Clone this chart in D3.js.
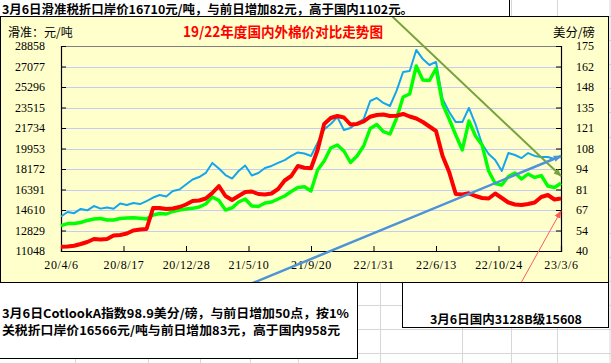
<!DOCTYPE html>
<html>
<head>
<meta charset="utf-8">
<script src="https://cdn.jsdelivr.net/npm/d3@7"></script>
<style>
  body { margin: 0; background: #fff; }
  svg { display: block; }
</style>
</head>
<body>
<div id="chart"></div>
<script>
// ---- data ----
const startDate = "2020-04-06";
const stepDays = 14;
const tickLabels = ["20/4/6", "20/8/17", "20/12/28", "21/5/10", "21/9/20", "22/1/31", "22/6/13", "22/10/24", "23/3/6"];
const leftTicks = [11048, 12829, 14610, 16391, 18172, 19953, 21734, 23515, 25296, 27077, 28858];
const rightTicks = [40, 53.5, 67, 80.5, 94, 107.5, 121, 134.5, 148, 161.5, 175];

// red: domestic 3128B (yuan/t, left axis)
const domesticPrice = [11422, 11439, 11500, 11656, 11830, 12091, 12047, 12091, 12395, 12438,
  12568, 12829, 12916, 12959, 14784, 14784, 14697, 14740, 14871, 15088,
  15392, 15435, 15609, 16087, 16695, 15826, 15479, 15826, 16174, 16217,
  16000, 15957, 16044, 16435, 17173, 17564, 18433, 18285, 18233, 19823,
  22082, 22603, 22777, 22646, 22038, 22082, 22299, 22716, 22864, 22907,
  22777, 22803, 22951, 22733, 22560, 22256, 21865, 21474, 19302, 17912,
  16000, 15957, 16061, 15826, 15653, 15609, 16044, 15653, 15262, 15088,
  15044, 15131, 15262, 15740, 15913, 15522, 15608];

// blue: Cotlook A index (cents/lb, right axis)
const cotlookA = [62.7, 65.7, 64.9, 67.7, 66.8, 69.6, 67.9, 68.6, 67.8, 71.3,
  70.3, 71.6, 70.9, 72.9, 75.2, 76.9, 75.9, 79.5, 80.5, 83.8,
  87.1, 88.7, 91.4, 98.0, 94.3, 90.0, 87.7, 92.7, 96.3, 89.7,
  91.4, 94.7, 96.0, 98.0, 99.9, 102.6, 104.9, 104.2, 102.6, 111.1,
  120.0, 123.6, 128.2, 119.7, 121.0, 124.3, 126.9, 138.8, 140.8, 137.5,
  135.5, 145.4, 157.9, 158.5, 172.4, 166.4, 162.5, 164.5, 140.1, 131.5,
  124.9, 124.9, 134.2, 123.6, 110.5, 103.9, 99.9, 92.7, 104.5, 103.2,
  101.2, 104.5, 102.6, 101.9, 101.9, 100.6, 102.2];

// green: import price after tariff (yuan/t, left axis)
const importPrice = [13263, 13437, 13437, 13524, 13698, 13828, 13872, 13741, 13741, 13872,
  13915, 13941, 13889, 13828, 14176, 14306, 14263, 14480, 14610, 14697,
  14758, 14871, 15131, 15740, 15435, 14610, 14784, 15305, 15566, 14958,
  14914, 15218, 15305, 15566, 15826, 16217, 16565, 16634, 16261, 18085,
  18867, 19997, 20257, 19736, 18737, 19302, 20170, 21691, 22038, 21413,
  21213, 22560, 24428, 24688, 27121, 25904, 25861, 26904, 23819, 22516,
  21126, 19823, 22342, 21039, 20257, 17998, 16912, 16782, 17521, 17825,
  17303, 17738, 17434, 17607, 16695, 16565, 16930];

// hand-drawn trend arrows, in data space [date, left-axis value]
const trendLines = [
  { from: ["2022-03-10", 31500], to: ["2023-03-06", 17564], color: "#77A33D", width: 2, arrow: "g" },
  { from: ["2021-05-15", 8200], to: ["2023-03-06", 19302], color: "#4E92D8", width: 2.5, arrow: "b" },
  { from: ["2022-12-12", 8355], to: ["2023-03-06", 14523], color: "#FF5A5A", width: 1, arrow: "r" }
];

const topText = "3月6日滑准税折口岸价16710元/吨，与前日增加82元，高于国内1102元。";
const noteLines = ["3月6日CotlookA指数98.9美分/磅，与前日增加50点，按1%", "关税折口岸价16566元/吨与前日增加83元，高于国内958元"];
const sideNote = "3月6日国内3128B级15608";

// ---- drawing ----
const W = 611, H = 363;
const plot = { left: 61, right: 561, top: 46, bottom: 251 };
const cjk = '"Noto Sans CJK SC", "Noto Sans", sans-serif';
const serif = '"Liberation Serif", "DejaVu Serif", serif';

const parseDay = d3.timeParse("%Y-%m-%d");
const parseTick = d3.timeParse("%y/%m/%d");
const t0 = parseDay(startDate);
const dates = d3.range(domesticPrice.length).map(i => d3.timeDay.offset(t0, i * stepDays));
const tickDates = tickLabels.map(parseTick);

const x = d3.scaleTime()
    .domain([tickDates[0], tickDates[tickDates.length - 1]])
    .range([plot.left, plot.right]);
const yL = d3.scaleLinear().domain([leftTicks[0], leftTicks[leftTicks.length - 1]]).range([plot.bottom, plot.top]);
const yR = d3.scaleLinear().domain([rightTicks[0], rightTicks[rightTicks.length - 1]]).range([plot.bottom, plot.top]);

const svg = d3.select('#chart').append('svg')
    .attr('width', W)
    .attr('height', H)
    .attr('viewBox', [0, 0, W, H]);

// spreadsheet grid behind everything
const gridCols = [75, 148, 200, 250, 298, 380, 462, 511, 557, 609.5];
const gridRows = d3.range(0, 15).map(k => 16 + k * 24.1);
const sheet = svg.append('g').attr('stroke', '#d6d6d6').attr('stroke-width', 1);
gridCols.forEach(c => sheet.append('line').attr('x1', c + 0.5).attr('x2', c + 0.5).attr('y1', 0).attr('y2', H));
gridRows.forEach(r => sheet.append('line').attr('x1', 0).attr('x2', W).attr('y1', Math.round(r) + 0.5).attr('y2', Math.round(r) + 0.5));

// chart area
svg.append('rect')
    .attr('x', 0.5).attr('y', 16.5)
    .attr('width', 608).attr('height', 266)
    .attr('fill', '#FFFFCC')
    .attr('stroke', '#000');

svg.append('defs').append('clipPath').attr('id', 'chartClip')
    .append('rect').attr('x', 1).attr('y', 17).attr('width', 607).attr('height', 265);

// horizontal gridlines
svg.append('g')
    .selectAll('line')
    .data(leftTicks.slice(1, -1))
    .join('line')
    .attr('x1', plot.left).attr('x2', plot.right)
    .attr('y1', d => Math.round(yL(d)) + 0.5)
    .attr('y2', d => Math.round(yL(d)) + 0.5)
    .attr('stroke', '#C4CCF2')
    .attr('stroke-width', 1);

// top border of plot
svg.append('line')
    .attr('x1', plot.left).attr('x2', plot.right)
    .attr('y1', plot.top + 0.5).attr('y2', plot.top + 0.5)
    .attr('stroke', '#808080');

// axes
const leftAxis = d3.axisLeft(yL).tickValues(leftTicks).tickSize(-5).tickPadding(16).tickFormat(d3.format('d'));
const rightAxis = d3.axisRight(yR).tickValues(rightTicks).tickSize(-5).tickPadding(15).tickFormat(d => Math.round(d));
const bottomAxis = d3.axisBottom(x).tickValues(tickDates).tickSize(-5).tickPadding(9).tickFormat((d, i) => tickLabels[i]);

function styleAxis(g) {
    g.select('.domain').attr('stroke', '#000').attr('stroke-width', 1.2);
    g.selectAll('.tick line').attr('stroke', '#000');
    g.selectAll('.tick text').attr('fill', '#000').style('font-family', serif).style('font-size', '12px');
}

svg.append('g').attr('transform', `translate(${plot.left},0)`).call(leftAxis).call(styleAxis);
svg.append('g').attr('transform', `translate(${plot.right},0)`).call(rightAxis).call(styleAxis);
svg.append('g').attr('transform', `translate(0,${plot.bottom})`).call(bottomAxis).call(styleAxis)
    .selectAll('.tick text').style('letter-spacing', '0.6px');

// series
const series = [
    { values: cotlookA, y: yR, color: '#14A6EC', width: 2 },
    { values: importPrice, y: yL, color: '#00FF00', width: 3.4 },
    { values: domesticPrice, y: yL, color: '#FF0000', width: 4 }
];

series.forEach(s => {
    const line = d3.line()
        .x((d, i) => x(dates[i]))
        .y(d => s.y(d));
    svg.append('path')
        .datum(s.values)
        .attr('d', line)
        .attr('fill', 'none')
        .attr('stroke', s.color)
        .attr('stroke-width', s.width)
        .attr('stroke-linejoin', 'round')
        .attr('stroke-linecap', 'butt');
});

// arrow markers
const defs = svg.select('defs');
trendLines.forEach(t => {
    defs.append('marker')
        .attr('id', 'arrow-' + t.arrow)
        .attr('viewBox', '0 0 10 10')
        .attr('refX', 9).attr('refY', 5)
        .attr('markerUnits', 'userSpaceOnUse')
        .attr('markerWidth', 8).attr('markerHeight', 8)
        .attr('orient', 'auto')
        .append('path')
        .attr('d', 'M0,1 L10,5 L0,9 Z')
        .attr('fill', t.color);
});

const anno = svg.append('g').attr('clip-path', 'url(#chartClip)');
trendLines.forEach(t => {
    anno.append('line')
        .attr('x1', x(parseDay(t.from[0]))).attr('y1', yL(t.from[1]))
        .attr('x2', x(parseDay(t.to[0]))).attr('y2', yL(t.to[1]))
        .attr('stroke', t.color)
        .attr('stroke-width', t.width)
        .attr('marker-end', `url(#arrow-${t.arrow})`);
});

// titles
svg.append('text')
    .attr('x', 283).attr('y', 37)
    .attr('text-anchor', 'middle')
    .attr('textLength', 200)
    .attr('lengthAdjust', 'spacingAndGlyphs')
    .style('font-family', cjk).style('font-size', '14px').style('font-weight', 'bold')
    .attr('fill', '#FF0000')
    .text('19/22年度国内外棉价对比走势图');

svg.append('text')
    .attr('x', 8).attr('y', 37)
    .style('font-family', cjk).style('font-size', '12px')
    .attr('fill', '#000')
    .text('滑准：元/吨');

svg.append('text')
    .attr('x', 553).attr('y', 37)
    .attr('textLength', 42)
    .attr('lengthAdjust', 'spacingAndGlyphs')
    .style('font-family', cjk).style('font-size', '12px')
    .attr('fill', '#000')
    .text('美分/磅');

// top note box
svg.append('rect')
    .attr('x', -1).attr('y', -1).attr('width', 510.5).attr('height', 17.5)
    .attr('fill', '#fff').attr('stroke', '#000');
svg.append('text')
    .attr('x', 2).attr('y', 14)
    .attr('textLength', 411)
    .attr('lengthAdjust', 'spacingAndGlyphs')
    .style('font-family', cjk).style('font-size', '12px').style('font-weight', 'bold')
    .attr('fill', '#000')
    .text(topText);

// bottom note boxes
svg.append('rect')
    .attr('x', -1).attr('y', 282.5).attr('width', 358.5).attr('height', 76)
    .attr('fill', '#fff').attr('stroke', '#000');
const noteLens = [347, 338];
noteLines.forEach((s, i) => {
    svg.append('text')
        .attr('x', 2).attr('y', 318 + i * 17)
        .attr('textLength', noteLens[i])
        .attr('lengthAdjust', 'spacingAndGlyphs')
        .style('font-family', cjk).style('font-size', '12px').style('font-weight', 'bold')
        .attr('fill', '#000')
        .text(s);
});

svg.append('rect')
    .attr('x', 402.5).attr('y', 282.5).attr('width', 206).attr('height', 45)
    .attr('fill', '#fff').attr('stroke', '#000');
svg.append('text')
    .attr('x', 506).attr('y', 324)
    .attr('text-anchor', 'middle')
    .attr('textLength', 152)
    .attr('lengthAdjust', 'spacingAndGlyphs')
    .style('font-family', cjk).style('font-size', '12px').style('font-weight', 'bold')
    .attr('fill', '#000')
    .text(sideNote);
</script>
</body>
</html>
